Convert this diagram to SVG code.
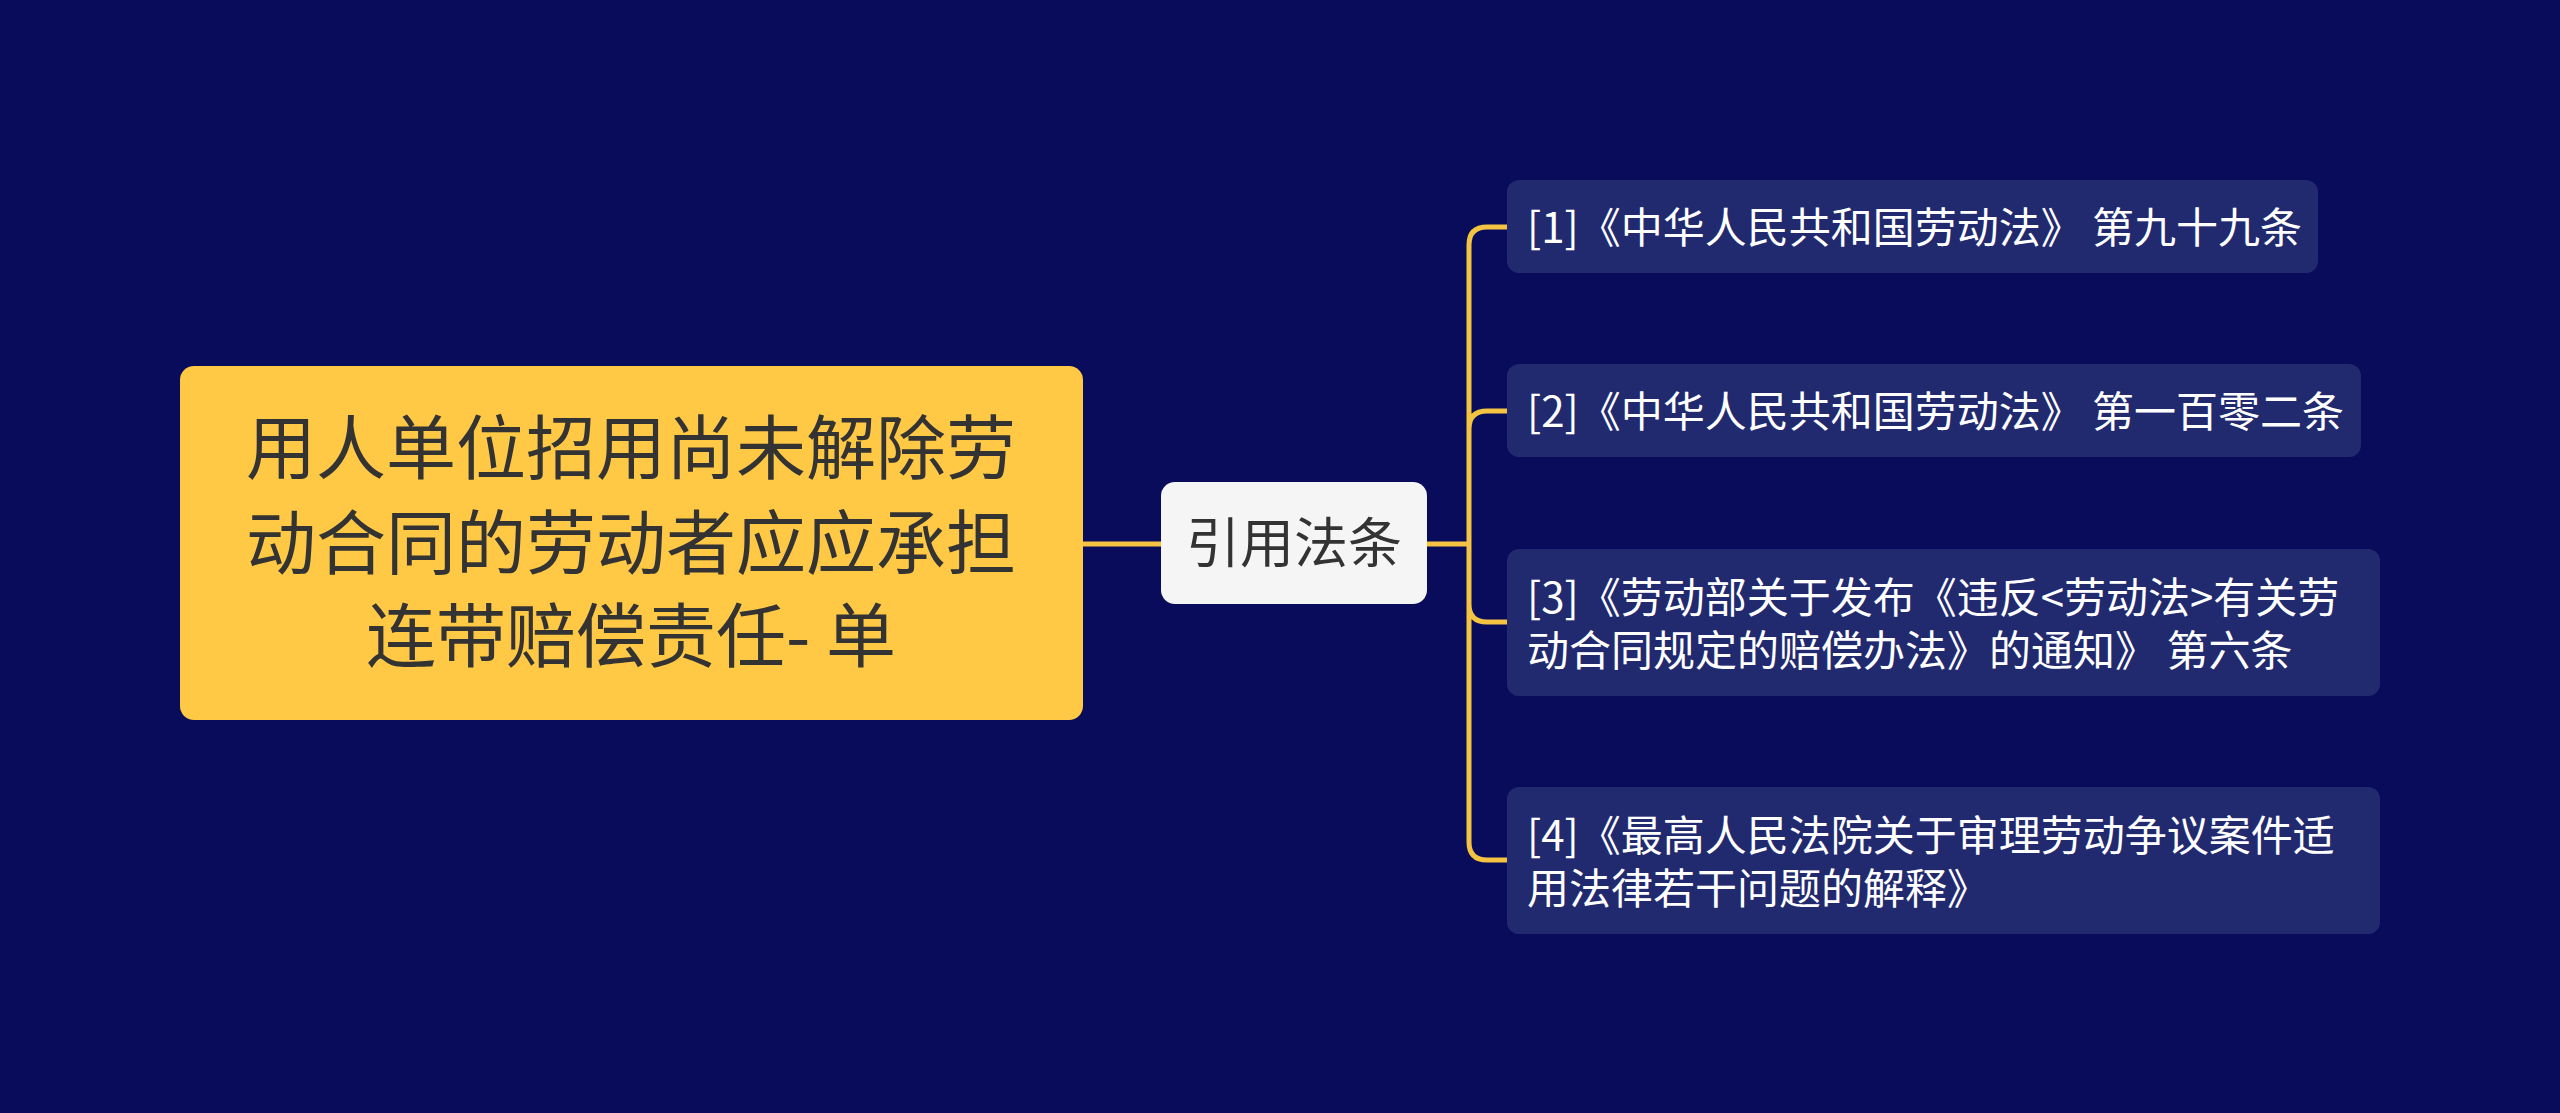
<svg xmlns="http://www.w3.org/2000/svg" width="2560" height="1113" viewBox="0 0 2560 1113">
<style>
.c{fill:none;stroke:#f5c342;stroke-width:5;stroke-linecap:round}
.leaf{fill:#222a6f}
.lt{font-family:"Noto Sans CJK SC","Noto Sans",sans-serif;font-size:42px;fill:#ffffff}
</style>
<rect width="2560" height="1113" fill="#080c5a"/>
<g id="connectors">
<line class="c" x1="1083" y1="544" x2="1161" y2="544"/>
<path class="c" d="M1427 544 H1469 M1469 544 V245 Q1469 227 1487 227 H1507 M1469 544 V429 Q1469 411 1487 411 H1507 M1469 544 V604 Q1469 622 1487 622 H1507 M1469 544 V842 Q1469 860 1487 860 H1507"/>
</g>
<g id="root">
<rect x="180" y="366" width="903" height="354" rx="14" fill="#ffc845"/>
<g font-family="Noto Sans CJK SC,sans-serif" font-size="70" fill="#333333" text-anchor="middle">
<text x="631" y="474">用人单位招用尚未解除劳</text>
<text x="631" y="569">动合同的劳动者应应承担</text>
<text x="631" y="662">连带赔偿责任- 单</text>
</g>
</g>
<g id="mid">
<rect x="1161" y="482" width="266" height="122" rx="14" fill="#f5f5f5"/>
<text x="1294" y="563" font-family="Noto Sans CJK SC,sans-serif" font-size="54" fill="#333333" text-anchor="middle">引用法条</text>
</g>
<g id="leaf1">
<rect class="leaf" x="1507" y="180" width="811" height="93" rx="12"/>
<text class="lt" x="1527" y="243">[1]《中华人民共和国劳动法》 第九十九条</text>
</g>
<g id="leaf2">
<rect class="leaf" x="1507" y="364" width="854" height="93" rx="12"/>
<text class="lt" x="1527" y="427">[2]《中华人民共和国劳动法》 第一百零二条</text>
</g>
<g id="leaf3">
<rect class="leaf" x="1507" y="549" width="873" height="147" rx="12"/>
<text class="lt" x="1527" y="613">[3]《劳动部关于发布《违反&lt;劳动法&gt;有关劳</text>
<text class="lt" x="1527" y="666">动合同规定的赔偿办法》的通知》 第六条</text>
</g>
<g id="leaf4">
<rect class="leaf" x="1507" y="787" width="873" height="147" rx="12"/>
<text class="lt" x="1527" y="851">[4]《最高人民法院关于审理劳动争议案件适</text>
<text class="lt" x="1527" y="904">用法律若干问题的解释》</text>
</g>
</svg>
